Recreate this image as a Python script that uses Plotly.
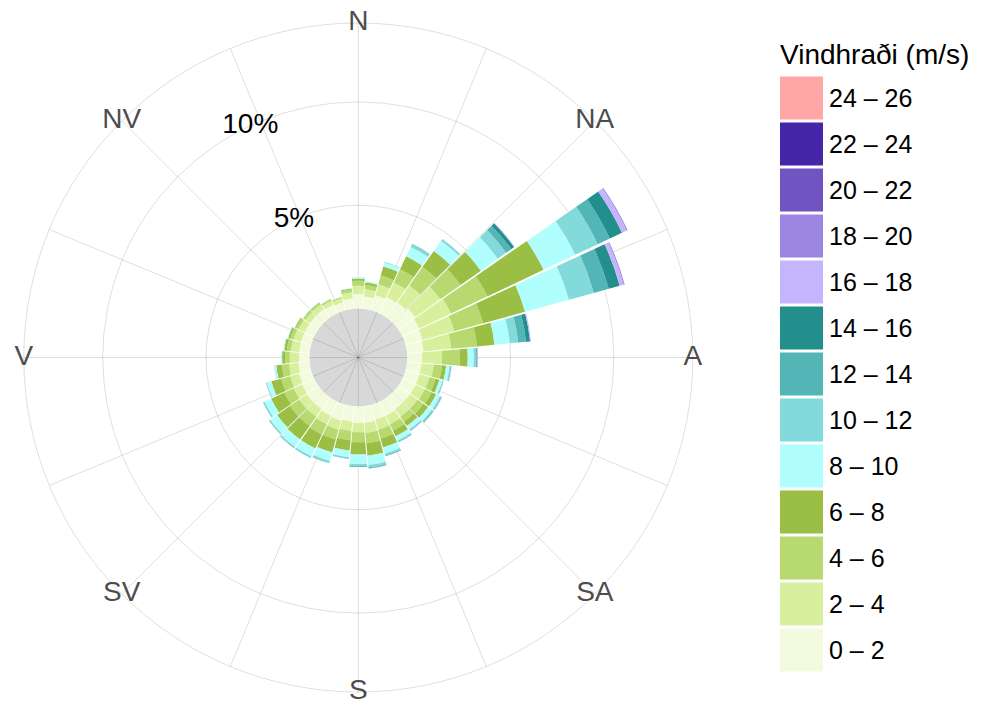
import plotly.graph_objects as go

# --- data: wind frequency (%) per direction and speed class ---
directions = list(range(0, 360, 10))

speed_labels = ["0 – 2", "2 – 4", "4 – 6", "6 – 8", "8 – 10", "10 – 12", "12 – 14",
                "14 – 16", "16 – 18", "18 – 20", "20 – 22", "22 – 24", "24 – 26"]
speed_colors = ["#F3FBDF", "#D8F09E", "#B7D970", "#9ABF44", "#B0FEFE", "#83DADA", "#53B5B5",
                "#228F8D", "#C5B5FF", "#9A85E0", "#7054C2", "#4525A8", "#FFA6A6"]

s0_2 = [0.70, 0.60, 0.75, 0.85, 0.90, 1.00, 0.90, 0.85, 0.80, 0.72,
        0.70, 0.70, 0.70, 0.70, 0.70, 0.75, 0.75, 0.80, 0.80, 0.75,
        0.80, 0.75, 0.70, 0.70, 0.65, 0.60, 0.55, 0.50, 0.50, 0.50,
        0.50, 0.50, 0.50, 0.45, 0.40, 0.50]
s2_4 = [0.40, 0.35, 0.55, 0.80, 1.00, 1.50, 1.70, 1.60, 1.35, 0.97,
        0.60, 0.50, 0.50, 0.45, 0.45, 0.45, 0.50, 0.50, 0.45, 0.45,
        0.45, 0.45, 0.45, 0.45, 0.45, 0.45, 0.45, 0.45, 0.40, 0.38,
        0.33, 0.27, 0.27, 0.22, 0.20, 0.30]
s4_6 = [0.25, 0.20, 0.45, 0.70, 1.10, 1.20, 1.95, 1.45, 1.25, 0.86,
        0.40, 0.30, 0.35, 0.35, 0.30, 0.35, 0.45, 0.50, 0.48, 0.45,
        0.50, 0.55, 0.55, 0.55, 0.50, 0.45, 0.35, 0.22, 0.20, 0.17,
        0.13, 0.10, 0.10, 0.07, 0.05, 0.13]
s6_8 = [0.10, 0.12, 0.45, 0.70, 0.95, 1.20, 3.00, 2.10, 0.85, 0.38,
        0.20, 0.20, 0.25, 0.27, 0.25, 0.30, 0.45, 0.60, 0.60, 0.50,
        0.65, 0.75, 0.80, 0.75, 0.70, 0.50, 0.27, 0.15, 0.13, 0.10,
        0.06, 0.03, 0.03, 0.02, 0.01, 0.05]
s8_10 = [0.08, 0.07, 0.20, 0.50, 0.60, 1.00, 1.70, 2.20, 0.75, 0.29,
         0.17, 0.15, 0.20, 0.22, 0.20, 0.22, 0.30, 0.45, 0.46, 0.32,
         0.42, 0.42, 0.42, 0.40, 0.35, 0.22, 0.08, 0.05, 0.05, 0.03,
         0.03, 0.02, 0.02, 0.01, 0.01, 0.03]
s10_12 = [0.00, 0.00, 0.03, 0.15, 0.10, 0.50, 1.20, 1.25, 0.40, 0.12,
          0.05, 0.04, 0.08, 0.07, 0.06, 0.07, 0.10, 0.12, 0.10, 0.07,
          0.10, 0.07, 0.07, 0.06, 0.06, 0.04, 0.02, 0.00, 0.00, 0.00,
          0.00, 0.00, 0.00, 0.00, 0.00, 0.00]
s12_14 = [0.00, 0.00, 0.00, 0.02, 0.01, 0.30, 0.65, 0.75, 0.38, 0.04,
          0.02, 0.01, 0.02, 0.03, 0.02, 0.02, 0.03, 0.04, 0.03, 0.02,
          0.02, 0.02, 0.02, 0.02, 0.02, 0.01, 0.00, 0.00, 0.00, 0.00,
          0.00, 0.00, 0.00, 0.00, 0.00, 0.00]
s14_16 = [0.00, 0.00, 0.00, 0.00, 0.00, 0.17, 0.65, 0.55, 0.20, 0.02,
          0.01, 0.01, 0.01, 0.01, 0.01, 0.01, 0.00, 0.01, 0.01, 0.00,
          0.00, 0.00, 0.00, 0.00, 0.00, 0.00, 0.00, 0.00, 0.00, 0.00,
          0.00, 0.00, 0.00, 0.00, 0.00, 0.00]
s16_18 = [0.00, 0.00, 0.00, 0.00, 0.00, 0.03, 0.25, 0.20, 0.05, 0.03,
          0.02, 0.00, 0.01, 0.00, 0.01, 0.00, 0.00, 0.00, 0.00, 0.00,
          0.00, 0.00, 0.00, 0.00, 0.00, 0.00, 0.00, 0.00, 0.00, 0.00,
          0.00, 0.00, 0.00, 0.00, 0.00, 0.00]
s18_20 = [0.00, 0.00, 0.00, 0.00, 0.00, 0.00, 0.05, 0.05, 0.00, 0.00,
          0.00, 0.00, 0.00, 0.00, 0.00, 0.00, 0.00, 0.00, 0.00, 0.00,
          0.00, 0.00, 0.00, 0.00, 0.00, 0.00, 0.00, 0.00, 0.00, 0.00,
          0.00, 0.00, 0.00, 0.00, 0.00, 0.00]
s20_22 = [0.0] * 36
s22_24 = [0.0] * 36
s24_26 = [0.0] * 36

speed_series = [s0_2, s2_4, s4_6, s6_8, s8_10, s10_12, s12_14,
                s14_16, s16_18, s18_20, s20_22, s22_24, s24_26]

compass_angles = [0, 45, 90, 135, 180, 225, 270, 315]
compass_labels = ["N", "NA", "A", "SA", "S", "SV", "V", "NV"]
radial_ticks = [5, 10]
radial_ticktext = ["5%", "10%"]

# --- layout settings ---
W, H = 981, 706
R_MIN, R_MAX = -2.37, 13.82       # negative start leaves the grey centre disk
POLAR_X = [0.02426, 0.70622]
POLAR_Y = [0.01983, 0.96742]
GRID = "rgba(0,0,0,0.13)"
FONT = "Liberation Sans, Arial, sans-serif"

fig = go.Figure()

for label, color, vals in zip(speed_labels, speed_colors, speed_series):
    fig.add_trace(go.Barpolar(
        r=vals, theta=directions, width=9.35, name=label,
        marker=dict(color=color, line=dict(width=0)),
        showlegend=False, hoverinfo="skip"
    ))

# compass labels sitting on the outer circle
fig.add_trace(go.Scatterpolar(
    r=[R_MAX] * len(compass_angles), theta=compass_angles, text=compass_labels,
    mode="text", textfont=dict(size=28, color="#4d4d4d", family=FONT),
    cliponaxis=False, showlegend=False, hoverinfo="skip"
))
# radial percentage labels
fig.add_trace(go.Scatterpolar(
    r=radial_ticks, theta=[335] * len(radial_ticks), text=radial_ticktext,
    mode="text", textfont=dict(size=28, color="black", family=FONT),
    cliponaxis=False, showlegend=False, hoverinfo="skip"
))

# legend drawn as a small bar chart of colour keys
fig.add_trace(go.Bar(
    x=[1] * len(speed_labels), y=speed_labels, orientation="h",
    marker=dict(color=speed_colors, line=dict(width=0)), width=0.935,
    showlegend=False, hoverinfo="skip", xaxis="x", yaxis="y"
))

# grey disk behind the centre (shape in paper units from the polar domain)
cx = (POLAR_X[0] + POLAR_X[1]) / 2
cy = (POLAR_Y[0] + POLAR_Y[1]) / 2
outer_px = min((POLAR_X[1] - POLAR_X[0]) * W, (POLAR_Y[1] - POLAR_Y[0]) * H) / 2
disk_px = outer_px * (0 - R_MIN) / (R_MAX - R_MIN)
fig.add_shape(type="circle", xref="paper", yref="paper", layer="below",
              x0=cx - disk_px / W, x1=cx + disk_px / W,
              y0=cy - disk_px / H, y1=cy + disk_px / H,
              fillcolor="#d8d8d8", line=dict(width=0))

fig.update_layout(
    width=W, height=H, margin=dict(l=0, r=0, t=0, b=0),
    paper_bgcolor="white", plot_bgcolor="white",
    font=dict(family=FONT, color="black"),
    showlegend=False,
    polar=dict(
        domain=dict(x=POLAR_X, y=POLAR_Y),
        bgcolor="rgba(0,0,0,0)",
        barmode="stack",
        radialaxis=dict(range=[R_MIN, R_MAX], tickvals=radial_ticks, showticklabels=False,
                        ticks="", showline=False, gridcolor=GRID, gridwidth=1),
        angularaxis=dict(direction="clockwise", rotation=90,
                         tickvals=[i * 22.5 for i in range(16)], showticklabels=False,
                         ticks="", showline=True, linecolor=GRID, linewidth=1,
                         gridcolor=GRID, gridwidth=1),
    ),
    xaxis=dict(domain=[0.79511, 0.83894], range=[0, 1], visible=False, fixedrange=True),
    yaxis=dict(domain=[0.04674, 0.89377], range=[-0.5, 12.5], side="right",
               type="category", ticks="", showgrid=False, zeroline=False, showline=False,
               tickfont=dict(size=25, color="black", family=FONT),
               ticklabelstandoff=5, fixedrange=True),
    annotations=[dict(text="Vindhraði (m/s)", x=778 / W, y=1 - 55 / H, xref="paper",
                      yref="paper", xanchor="left", yanchor="middle", showarrow=False,
                      font=dict(size=28, color="black", family=FONT))],
)

# drop the browser's default body margin so the figure fills the window
fig.write_html("out.html", config={"displayModeBar": False},
               post_script="document.body.style.margin = '0';")
